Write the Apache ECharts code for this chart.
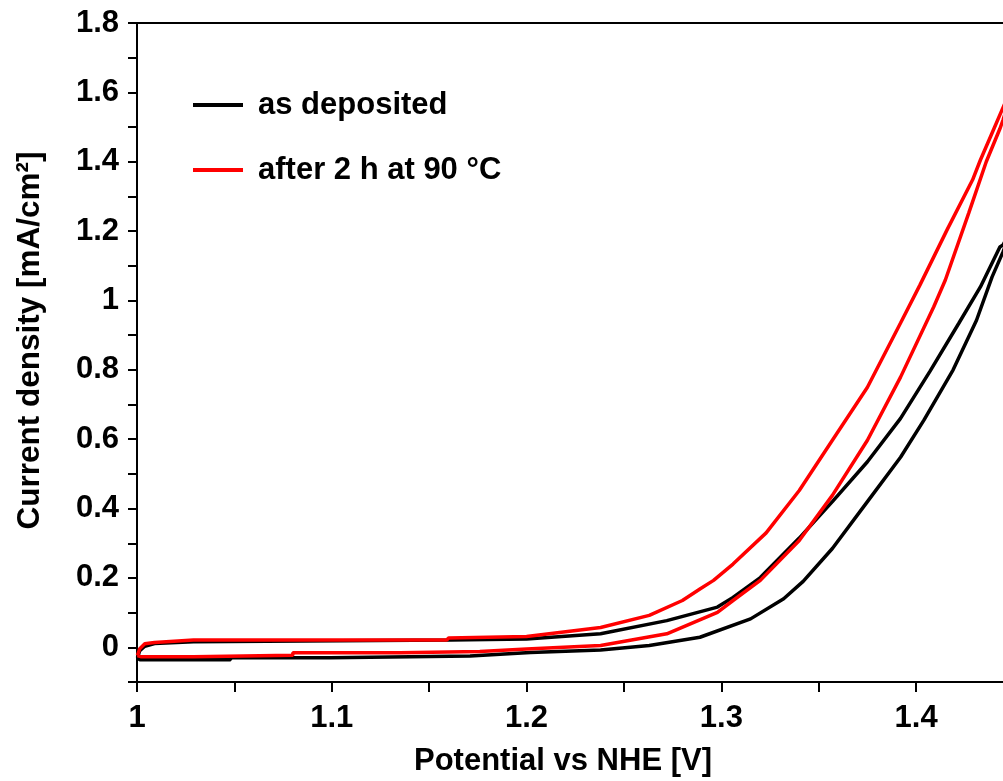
<!DOCTYPE html>
<html>
<head>
<meta charset="utf-8">
<script src="https://cdn.jsdelivr.net/npm/echarts@6/dist/echarts.min.js"></script>
<style>
html,body{margin:0;padding:0;background:#fff;}
#chart{width:1003px;height:781px;}
</style>
</head>
<body>
<div id="chart"></div>
<script>
// ---- data (potential [V], current density [mA/cm2]) ----
const xTickLabels = ['1', '1.1', '1.2', '1.3', '1.4'];
const yTickLabels = ['0', '0.2', '0.4', '0.6', '0.8', '1', '1.2', '1.4', '1.6', '1.8'];
const seriesNames = ['as deposited', 'after 2 h at 90 °C'];

// as deposited: anodic (forward) branch
const asDepositedForward = [
  [1.0002, -0.030], [1.0014, -0.036], [1.048, -0.036], [1.048, -0.030], [1.099, -0.030],
  [1.099, -0.025], [1.171, -0.025], [1.171, -0.021], [1.202, -0.015], [1.238, -0.008],
  [1.263, 0.005], [1.289, 0.029], [1.315, 0.082], [1.332, 0.140], [1.342, 0.190],
  [1.357, 0.285], [1.375, 0.420], [1.392, 0.548], [1.404, 0.655], [1.419, 0.800],
  [1.431, 0.943], [1.439, 1.068], [1.4446, 1.140], [1.4475, 1.180]
];
// as deposited: reverse branch
const asDepositedReverse = [
  [1.4475, 1.190], [1.4446, 1.160], [1.443, 1.154], [1.433, 1.039], [1.422, 0.935],
  [1.407, 0.795], [1.392, 0.660], [1.375, 0.535], [1.357, 0.420], [1.340, 0.315],
  [1.320, 0.201], [1.306, 0.144], [1.298, 0.116], [1.272, 0.077], [1.238, 0.039],
  [1.200, 0.024], [1.161, 0.021], [1.029, 0.016], [1.009, 0.011], [1.004, 0.003],
  [1.0014, -0.010], [1.0002, -0.030]
];
// after 2 h at 90 °C: forward branch
const annealedForward = [
  [1.0002, -0.024], [1.0019, -0.027], [1.029, -0.027], [1.029, -0.023], [1.080, -0.023],
  [1.080, -0.016], [1.135, -0.016], [1.135, -0.012], [1.176, -0.012], [1.177, -0.008],
  [1.200, -0.005], [1.238, 0.005], [1.272, 0.039], [1.298, 0.101], [1.306, 0.135],
  [1.320, 0.193], [1.340, 0.308], [1.357, 0.438], [1.375, 0.597], [1.392, 0.779],
  [1.409, 0.981], [1.415, 1.059], [1.427, 1.252], [1.436, 1.400], [1.443, 1.495],
  [1.4446, 1.520], [1.4475, 1.572]
];
// after 2 h at 90 °C: reverse branch
const annealedReverse = [
  [1.4475, 1.594], [1.4446, 1.556], [1.439, 1.483], [1.433, 1.405], [1.429, 1.348],
  [1.416, 1.205], [1.402, 1.045], [1.392, 0.935], [1.375, 0.750],
  [1.357, 0.597], [1.340, 0.452], [1.323, 0.330], [1.306, 0.240], [1.296, 0.193],
  [1.289, 0.168], [1.280, 0.135], [1.263, 0.092], [1.238, 0.057], [1.200, 0.031],
  [1.160, 0.027], [1.159, 0.021], [1.029, 0.021], [1.009, 0.014], [1.004, 0.010],
  [1.0014, -0.004], [1.0002, -0.024]
];

const FONT = '"Liberation Sans", Arial, Helvetica, sans-serif';
const FS = 31;
const chart = echarts.init(document.getElementById('chart'), null, {renderer: 'canvas'});

const option = {
  animation: false,
  backgroundColor: '#ffffff',
  grid: {left: 137, right: 0, top: 23, bottom: 99, containLabel: false, outerBoundsMode: 'none'},
  legend: {
    left: 188, top: 84, orient: 'vertical', itemGap: 33,
    icon: 'rect', itemWidth: 50, itemHeight: 4,
    data: seriesNames,
    textStyle: {fontFamily: FONT, fontWeight: 'bold', fontSize: FS, color: '#000', lineHeight: 32, padding: [0, 0, 0, 10]}
  },
  xAxis: [{
    type: 'value', min: 1, max: 1.4446, interval: 0.05, position: 'bottom',
    name: 'Potential vs NHE [V]', nameLocation: 'middle', nameGap: 64,
    nameTextStyle: {fontFamily: FONT, fontWeight: 'bold', fontSize: FS, color: '#000', padding: [0, 14, 0, 0]},
    axisLine: {show: true, onZero: false, lineStyle: {color: '#000', width: 2}},
    axisTick: {show: true, inside: false, length: 10, lineStyle: {color: '#000', width: 2}},
    axisLabel: {
      margin: 21, fontFamily: FONT, fontWeight: 'bold', fontSize: FS, color: '#000',
      showMaxLabel: false,
      formatter: v => { const s = String(Math.round(v * 100) / 100); return xTickLabels.includes(s) ? s : ''; }
    },
    splitLine: {show: false}
  }, {
    type: 'value', min: 1, max: 1.4446, position: 'top',
    axisLine: {show: true, onZero: false, lineStyle: {color: '#000', width: 2}},
    axisTick: {show: false}, axisLabel: {show: false}, splitLine: {show: false}
  }],
  yAxis: {
    type: 'value', min: -0.1, max: 1.8, interval: 0.1,
    name: 'Current density [mA/cm²]', nameLocation: 'middle', nameGap: 91, nameRotate: 90,
    nameTextStyle: {fontFamily: FONT, fontWeight: 'bold', fontSize: 31.5, color: '#000', padding: [0, 0, 0, 24]},
    axisLine: {show: true, onZero: false, lineStyle: {color: '#000', width: 2}},
    axisTick: {show: true, inside: false, length: 9, lineStyle: {color: '#000', width: 2}},
    axisLabel: {
      margin: 18, fontFamily: FONT, fontWeight: 'bold', fontSize: FS, color: '#000',
      formatter: v => { const s = String(Math.round(v * 10) / 10); return yTickLabels.includes(s) ? s : ''; }
    },
    splitLine: {show: false}
  },
  series: [{
    name: seriesNames[0], type: 'line', xAxisIndex: 0, showSymbol: false, symbol: 'none',
    clip: true, color: '#000000',
    lineStyle: {color: '#000000', width: 3.5},
    data: asDepositedForward.concat(asDepositedReverse)
  }, {
    name: seriesNames[1], type: 'line', xAxisIndex: 0, showSymbol: false, symbol: 'none',
    clip: true, color: '#ff0000',
    lineStyle: {color: '#ff0000', width: 3.5},
    data: annealedForward.concat(annealedReverse)
  }]
};
chart.setOption(option);
</script>
</body>
</html>
